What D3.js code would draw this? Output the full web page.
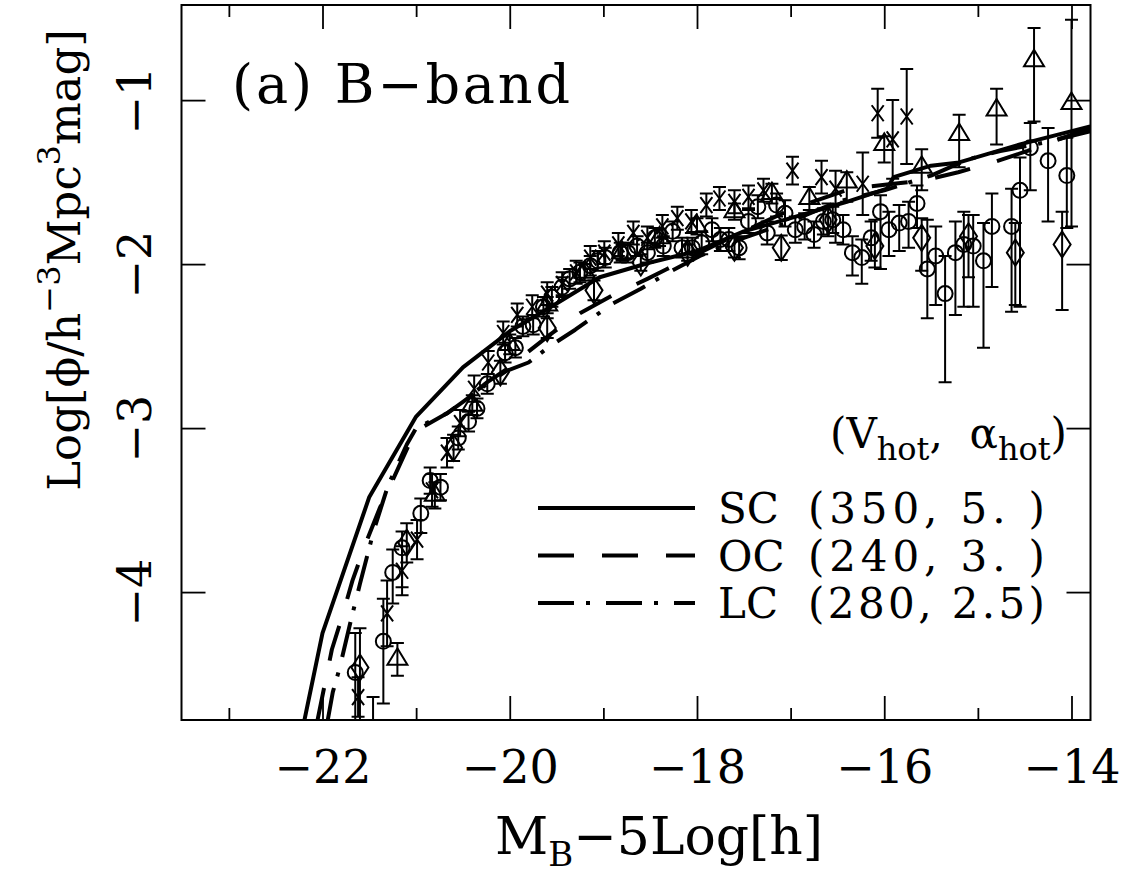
<!DOCTYPE html>
<html>
  <head>
  <meta charset="utf-8">
  <title>B-band luminosity function</title>
  <style>
    body, html { margin: 0; padding: 0; background: #fff; }
    text { font-family: "DejaVu Serif", "Liberation Serif", serif; fill: #000; white-space: pre; }
  </style>
  </head>
  <body>

  <svg id="svg" width="1130" height="876"></svg>

  <script src="https://d3js.org/d3.v7.min.js"></script>
  <script>
    // axis ticks
    const magMajor = [-22, -20, -18, -16, -14]
    const magMinor = [-23, -21, -19, -17, -15]
    const logTicks = [-4, -3, -2, -1]

    // model curves [M, log phi]
    const modelSC = [[-22.2, -4.8], [-22.0, -4.25], [-21.5, -3.42], [-21.0, -2.93], [-20.5, -2.63],
      [-20.0, -2.41], [-19.5, -2.24], [-19.04, -2.08], [-18.5, -1.99], [-18.0, -1.92], [-17.5, -1.80],
      [-17.0, -1.72], [-16.4, -1.62], [-15.97, -1.54], [-15.9, -1.47], [-15.5, -1.40], [-15.2, -1.38],
      [-14.55, -1.27], [-13.8, -1.16]]
    const modelOC = [[-22.06, -4.8], [-21.9, -4.35], [-21.79, -4.15], [-21.68, -3.93], [-21.53, -3.69],
      [-21.39, -3.49], [-21.26, -3.33], [-21.1, -3.13], [-21.01, -3.02], [-20.67, -2.91], [-20.5, -2.84],
      [-20.24, -2.72], [-20.03, -2.64], [-19.86, -2.56], [-19.57, -2.43], [-19.25, -2.30], [-18.9, -2.19],
      [-18.53, -2.09], [-18.32, -2.03], [-17.97, -1.93], [-17.5, -1.80], [-16.97, -1.66], [-16.36, -1.54],
      [-15.9, -1.51], [-15.58, -1.49], [-15.21, -1.44], [-14.84, -1.38], [-14.47, -1.31], [-14.09, -1.23],
      [-13.8, -1.17]]
    const modelLC = [[-21.95, -4.8], [-21.89, -4.61], [-21.82, -4.47], [-21.7, -4.18], [-21.6, -3.95],
      [-21.45, -3.62], [-21.3, -3.35], [-21.1, -3.10], [-21.0, -3.0], [-20.67, -2.91], [-20.5, -2.84],
      [-20.24, -2.73], [-20.03, -2.65], [-19.8, -2.60], [-19.57, -2.50], [-19.3, -2.40], [-18.9, -2.24],
      [-18.6, -2.15], [-18.3, -2.05], [-17.97, -1.95], [-17.5, -1.84], [-17.0, -1.74], [-16.5, -1.62],
      [-16.0, -1.55], [-15.5, -1.46], [-15.1, -1.36], [-14.76, -1.31], [-14.3, -1.26], [-13.8, -1.19]]

    // observed points [M, log phi, error up, error down]
    const crosses = [[-21.62, -4.64, 0.12, 0.12], [-21.46, -4.95, 0.31, 0.3], [-21.31, -4.13, 0.2, 0.2],
      [-21.15, -3.87, 0.15, 0.15], [-20.99, -3.68, 0.12, 0.12], [-20.83, -3.38, 0.1, 0.1],
      [-20.67, -3.15, 0.09, 0.09], [-20.53, -2.97, 0.08, 0.08], [-20.38, -2.76, 0.08, 0.08],
      [-20.23, -2.60, 0.07, 0.07], [-20.07, -2.42, 0.07, 0.07], [-19.92, -2.31, 0.07, 0.07],
      [-19.76, -2.26, 0.07, 0.07], [-19.60, -2.18, 0.07, 0.07], [-19.44, -2.12, 0.07, 0.07],
      [-19.29, -2.05, 0.07, 0.07], [-19.14, -1.96, 0.07, 0.07], [-18.99, -1.93, 0.07, 0.07],
      [-18.84, -1.88, 0.07, 0.07], [-18.68, -1.81, 0.07, 0.07], [-18.53, -1.84, 0.07, 0.07],
      [-18.37, -1.77, 0.07, 0.07], [-18.21, -1.72, 0.07, 0.07], [-18.06, -1.74, 0.07, 0.07],
      [-17.90, -1.64, 0.07, 0.07], [-17.76, -1.60, 0.07, 0.07], [-17.60, -1.62, 0.07, 0.07],
      [-17.45, -1.59, 0.07, 0.07], [-17.29, -1.55, 0.07, 0.07], [-16.98, -1.43, 0.085, 0.085],
      [-16.67, -1.47, 0.1, 0.1], [-16.52, -1.54, 0.11, 0.33], [-16.23, -1.51, 0.19, 0.19],
      [-16.07, -1.08, 0.15, 0.15], [-15.91, -1.24, 0.24, 0.24], [-15.76, -1.10, 0.29, 0.29]]

    const circles = [[-21.65, -4.49, 0.24, 0.5], [-21.35, -4.30, 0.26, 0.38], [-21.25, -3.88, 0.14, 0.19],
      [-21.15, -3.73, 0.10, 0.24], [-20.95, -3.52, 0.09, 0.12], [-20.85, -3.32, 0.08, 0.08],
      [-20.74, -3.36, 0.08, 0.08], [-20.55, -3.06, 0.07, 0.07], [-20.44, -2.96, 0.06, 0.06],
      [-20.35, -2.88, 0.06, 0.06], [-20.24, -2.73, 0.06, 0.06], [-20.05, -2.54, 0.06, 0.06],
      [-19.94, -2.51, 0.06, 0.06], [-19.86, -2.38, 0.06, 0.06], [-19.75, -2.37, 0.06, 0.06],
      [-19.64, -2.26, 0.06, 0.06], [-19.55, -2.20, 0.06, 0.06], [-19.44, -2.14, 0.06, 0.06],
      [-19.36, -2.09, 0.06, 0.06], [-19.25, -2.05, 0.06, 0.06], [-19.14, -2.01, 0.06, 0.06],
      [-19.06, -1.98, 0.06, 0.06], [-18.98, -1.96, 0.06, 0.06], [-18.82, -1.93, 0.06, 0.06],
      [-18.74, -1.93, 0.06, 0.06], [-18.64, -1.89, 0.06, 0.06], [-18.53, -1.93, 0.06, 0.06],
      [-18.45, -1.84, 0.06, 0.06], [-18.36, -1.89, 0.06, 0.06], [-18.26, -1.80, 0.06, 0.06],
      [-18.16, -1.90, 0.06, 0.06], [-18.05, -1.90, 0.06, 0.06], [-17.95, -1.87, 0.07, 0.07],
      [-17.84, -1.79, 0.07, 0.07], [-17.75, -1.85, 0.07, 0.07], [-17.66, -1.85, 0.07, 0.07],
      [-17.55, -1.90, 0.07, 0.07], [-17.45, -1.74, 0.07, 0.07], [-17.35, -1.65, 0.07, 0.07],
      [-17.25, -1.81, 0.07, 0.07], [-17.15, -1.64, 0.07, 0.07], [-17.06, -1.69, 0.08, 0.08],
      [-16.95, -1.79, 0.08, 0.08], [-16.85, -1.77, 0.08, 0.08], [-16.75, -1.82, 0.08, 0.08],
      [-16.65, -1.74, 0.08, 0.08], [-16.55, -1.73, 0.08, 0.08], [-16.44, -1.79, 0.09, 0.09],
      [-16.34, -1.93, 0.10, 0.14], [-16.24, -1.96, 0.11, 0.16], [-16.14, -1.84, 0.10, 0.14],
      [-16.04, -1.68, 0.10, 0.35], [-15.95, -1.79, 0.11, 0.16], [-15.84, -1.75, 0.11, 0.17],
      [-15.74, -1.74, 0.12, 0.16], [-15.65, -1.63, 0.11, 0.15], [-15.54, -2.03, 0.30, 0.30],
      [-15.45, -1.95, 0.18, 0.30], [-15.35, -2.18, 0.23, 0.54], [-15.24, -1.93, 0.19, 0.38],
      [-15.15, -1.88, 0.20, 0.38], [-15.05, -1.89, 0.19, 0.37], [-14.94, -1.98, 0.23, 0.53],
      [-14.85, -1.77, 0.20, 0.37], [-14.64, -1.77, 0.23, 0.52], [-14.55, -1.55, 0.20, 0.71],
      [-14.44, -1.29, 0.15, 0.26], [-14.25, -1.37, 0.20, 0.37], [-14.05, -1.46, 0.23, 0.32]]

    const diamonds = [[-21.6, -4.46, 0.24, 0.5], [-21.1, -3.70, 0.12, 0.12], [-20.6, -3.12, 0.08, 0.08],
      [-20.1, -2.66, 0.07, 0.07], [-19.6, -2.39, 0.06, 0.06], [-19.1, -2.16, 0.06, 0.06],
      [-18.6, -1.99, 0.05, 0.05], [-18.1, -1.93, 0.05, 0.05], [-17.6, -1.90, 0.06, 0.06],
      [-17.1, -1.90, 0.075, 0.075], [-16.6, -1.73, 0.1, 0.1], [-16.1, -1.89, 0.16, 0.13],
      [-15.6, -1.84, 0.12, 0.2], [-15.1, -1.83, 0.13, 0.25], [-14.6, -1.93, 0.18, 0.32],
      [-14.1, -1.88, 0.2, 0.4]]

    const triangles = [[-21.2, -4.41, 0.1, 0.1], [-20.8, -3.41, 0.08, 0.08], [-20.4, -2.86, 0.06, 0.06],
      [-20.0, -2.49, 0.06, 0.06], [-19.6, -2.25, 0.05, 0.05], [-19.2, -2.05, 0.05, 0.05],
      [-18.8, -1.93, 0.05, 0.05], [-18.4, -1.84, 0.05, 0.05], [-18.0, -1.77, 0.05, 0.05],
      [-17.6, -1.68, 0.05, 0.05], [-17.2, -1.57, 0.06, 0.06], [-16.8, -1.60, 0.07, 0.07],
      [-16.4, -1.50, 0.06, 0.12], [-16.0, -1.27, 0.05, 0.11], [-15.6, -1.41, 0.11, 0.14],
      [-15.2, -1.21, 0.12, 0.20], [-14.8, -1.06, 0.13, 0.21], [-14.4, -0.76, 0.20, 0.37],
      [-14.0, -1.02, 0.51, 0.75]]

    const legendRows = [
      { name: 'SC', params: '(350, 5. )', dash: null },
      { name: 'OC', params: '(240, 3. )', dash: '36,28' },
      { name: 'LC', params: '(280, 2.5)', dash: '36,12,4,16' }
    ]

    const svg = d3.select('#svg')
    const pLeft = 181.5, pRight = 1090.5, pTop = 5, pBottom = 720

    const x = d3.scaleLinear().domain([-23.506, -13.797]).range([pLeft, pRight])
    const y = d3.scaleLinear().domain([-4.78, -0.42]).range([pBottom, pTop])

    svg.append('rect').attr('width', 1130).attr('height', 876).attr('fill', '#fff')

    svg.append('clipPath').attr('id', 'plot')
      .append('rect').attr('x', pLeft).attr('y', pTop)
      .attr('width', pRight - pLeft).attr('height', pBottom - pTop)

    const plot = svg.append('g').attr('clip-path', 'url(#plot)')

    // model curves
    const line = d3.line().x(d => x(d[0])).y(d => y(d[1]))
    const models = [[modelSC, null], [modelOC, '36,28'], [modelLC, '36,12,4,16']]
    models.forEach(([data, dash]) => {
      plot.append('path')
        .attr('d', line(data))
        .attr('fill', 'none')
        .attr('stroke', '#000')
        .attr('stroke-width', 4)
        .attr('stroke-linejoin', 'round')
        .attr('stroke-dasharray', dash)
    })

    // error bars + markers
    const markers = {
      circle: 'M7.5,0A7.5,7.5 0 1,1 -7.5,0A7.5,7.5 0 1,1 7.5,0Z',
      cross: 'M-6,-8L6,8M-6,8L6,-8',
      triangle: 'M0,-11L10,5.5L-10,5.5Z',
      diamond: 'M0,-13L8.5,0L0,13L-8.5,0Z'
    }
    function drawSeries(data, shape) {
      const g = plot.append('g').attr('stroke', '#000').attr('fill', 'none').attr('stroke-width', 2)
      const pts = g.selectAll('g').data(data).enter().append('g')
      pts.append('path')
        .attr('d', d => {
          const px = x(d[0]), y1 = y(d[1] + d[2]), y2 = y(d[1] - d[3])
          return `M${px},${y1}V${y2}M${px - 6.5},${y1}H${px + 6.5}M${px - 6.5},${y2}H${px + 6.5}`
        })
      pts.append('path')
        .attr('transform', d => `translate(${x(d[0])},${y(d[1])})`)
        .attr('d', markers[shape])
    }
    drawSeries(crosses, 'cross')
    drawSeries(circles, 'circle')
    drawSeries(diamonds, 'diamond')
    drawSeries(triangles, 'triangle')

    // axes: ticks on all four sides, pointing inward
    function styleAxis(g) {
      g.select('.domain').remove()
      g.selectAll('line').attr('stroke', '#000').attr('stroke-width', 1.8)
    }
    svg.append('g').attr('transform', `translate(0,${pBottom})`)
      .call(d3.axisBottom(x).tickValues(magMajor).tickSize(-24).tickPadding(30)
        .tickFormat(d3.format('d')))
      .call(styleAxis)
      .selectAll('text').attr('font-size', 46).attr('font-family', '"DejaVu Serif", serif')
    svg.append('g').attr('transform', `translate(0,${pBottom})`)
      .call(d3.axisBottom(x).tickValues(magMinor).tickSize(-12).tickFormat(''))
      .call(styleAxis)
    svg.append('g').attr('transform', `translate(0,${pTop})`)
      .call(d3.axisTop(x).tickValues(magMajor).tickSize(-24).tickFormat(''))
      .call(styleAxis)
    svg.append('g').attr('transform', `translate(0,${pTop})`)
      .call(d3.axisTop(x).tickValues(magMinor).tickSize(-12).tickFormat(''))
      .call(styleAxis)
    const yAxis = svg.append('g').attr('transform', `translate(${pLeft},0)`)
      .call(d3.axisLeft(y).tickValues(logTicks).tickSize(-24).tickFormat(d3.format('d')))
      .call(styleAxis)
    yAxis.selectAll('text')
      .attr('transform', 'rotate(-90)')
      .attr('x', 0).attr('y', -31).attr('dy', 0)
      .attr('text-anchor', 'middle')
      .attr('font-size', 46).attr('font-family', '"DejaVu Serif", serif')
    svg.append('g').attr('transform', `translate(${pRight},0)`)
      .call(d3.axisRight(y).tickValues(logTicks).tickSize(-24).tickFormat(''))
      .call(styleAxis)

    // frame
    svg.append('rect')
      .attr('x', pLeft).attr('y', pTop).attr('width', pRight - pLeft).attr('height', pBottom - pTop)
      .attr('fill', 'none').attr('stroke', '#000').attr('stroke-width', 2)

    // title inside plot
    svg.append('text').attr('x', 232).attr('y', 103).attr('font-size', 54)
      .attr('textLength', 338).attr('lengthAdjust', 'spacing')
      .text('(a) B\u2212band')

    // axis labels
    const xl = svg.append('text').attr('x', 495).attr('y', 854).attr('font-size', 52)
    xl.append('tspan').text('M')
    xl.append('tspan').attr('font-size', 34).attr('dy', 12).text('B')
    xl.append('tspan').attr('dy', -12).text('\u22125Log[h]')

    const yl = svg.append('text').attr('transform', 'translate(80,260) rotate(-90)')
      .attr('text-anchor', 'middle').attr('font-size', 45)
    yl.append('tspan').text('Log[\u03d5/h')
    yl.append('tspan').attr('font-size', 32).attr('dy', -20).text('\u22123')
    yl.append('tspan').attr('dy', 20).text('Mpc')
    yl.append('tspan').attr('font-size', 32).attr('dy', -20).text('3')
    yl.append('tspan').attr('dy', 20).text('mag]')

    // legend
    const hdr = svg.append('text').attr('x', 830).attr('y', 448).attr('font-size', 42)
    hdr.append('tspan').text('(V')
    hdr.append('tspan').attr('font-size', 32).attr('dy', 12).text('hot')
    hdr.append('tspan').attr('dy', -12).text(',  \u03b1')
    hdr.append('tspan').attr('font-size', 32).attr('dy', 12).text('hot')
    hdr.append('tspan').attr('dy', -12).text(')')

    legendRows.forEach((r, i) => {
      const ly = 508 + i * 47.5
      svg.append('line')
        .attr('x1', 538).attr('x2', 695).attr('y1', ly).attr('y2', ly)
        .attr('stroke', '#000').attr('stroke-width', 4)
        .attr('stroke-dasharray', r.dash)
      svg.append('text').attr('x', 718).attr('y', ly + 15).attr('font-size', 42).text(r.name)
      svg.append('text').attr('x', 808).attr('y', ly + 15).attr('font-size', 42)
        .attr('textLength', 237).attr('lengthAdjust', 'spacing').text(r.params)
    })
  </script>
  </body>
</html>
